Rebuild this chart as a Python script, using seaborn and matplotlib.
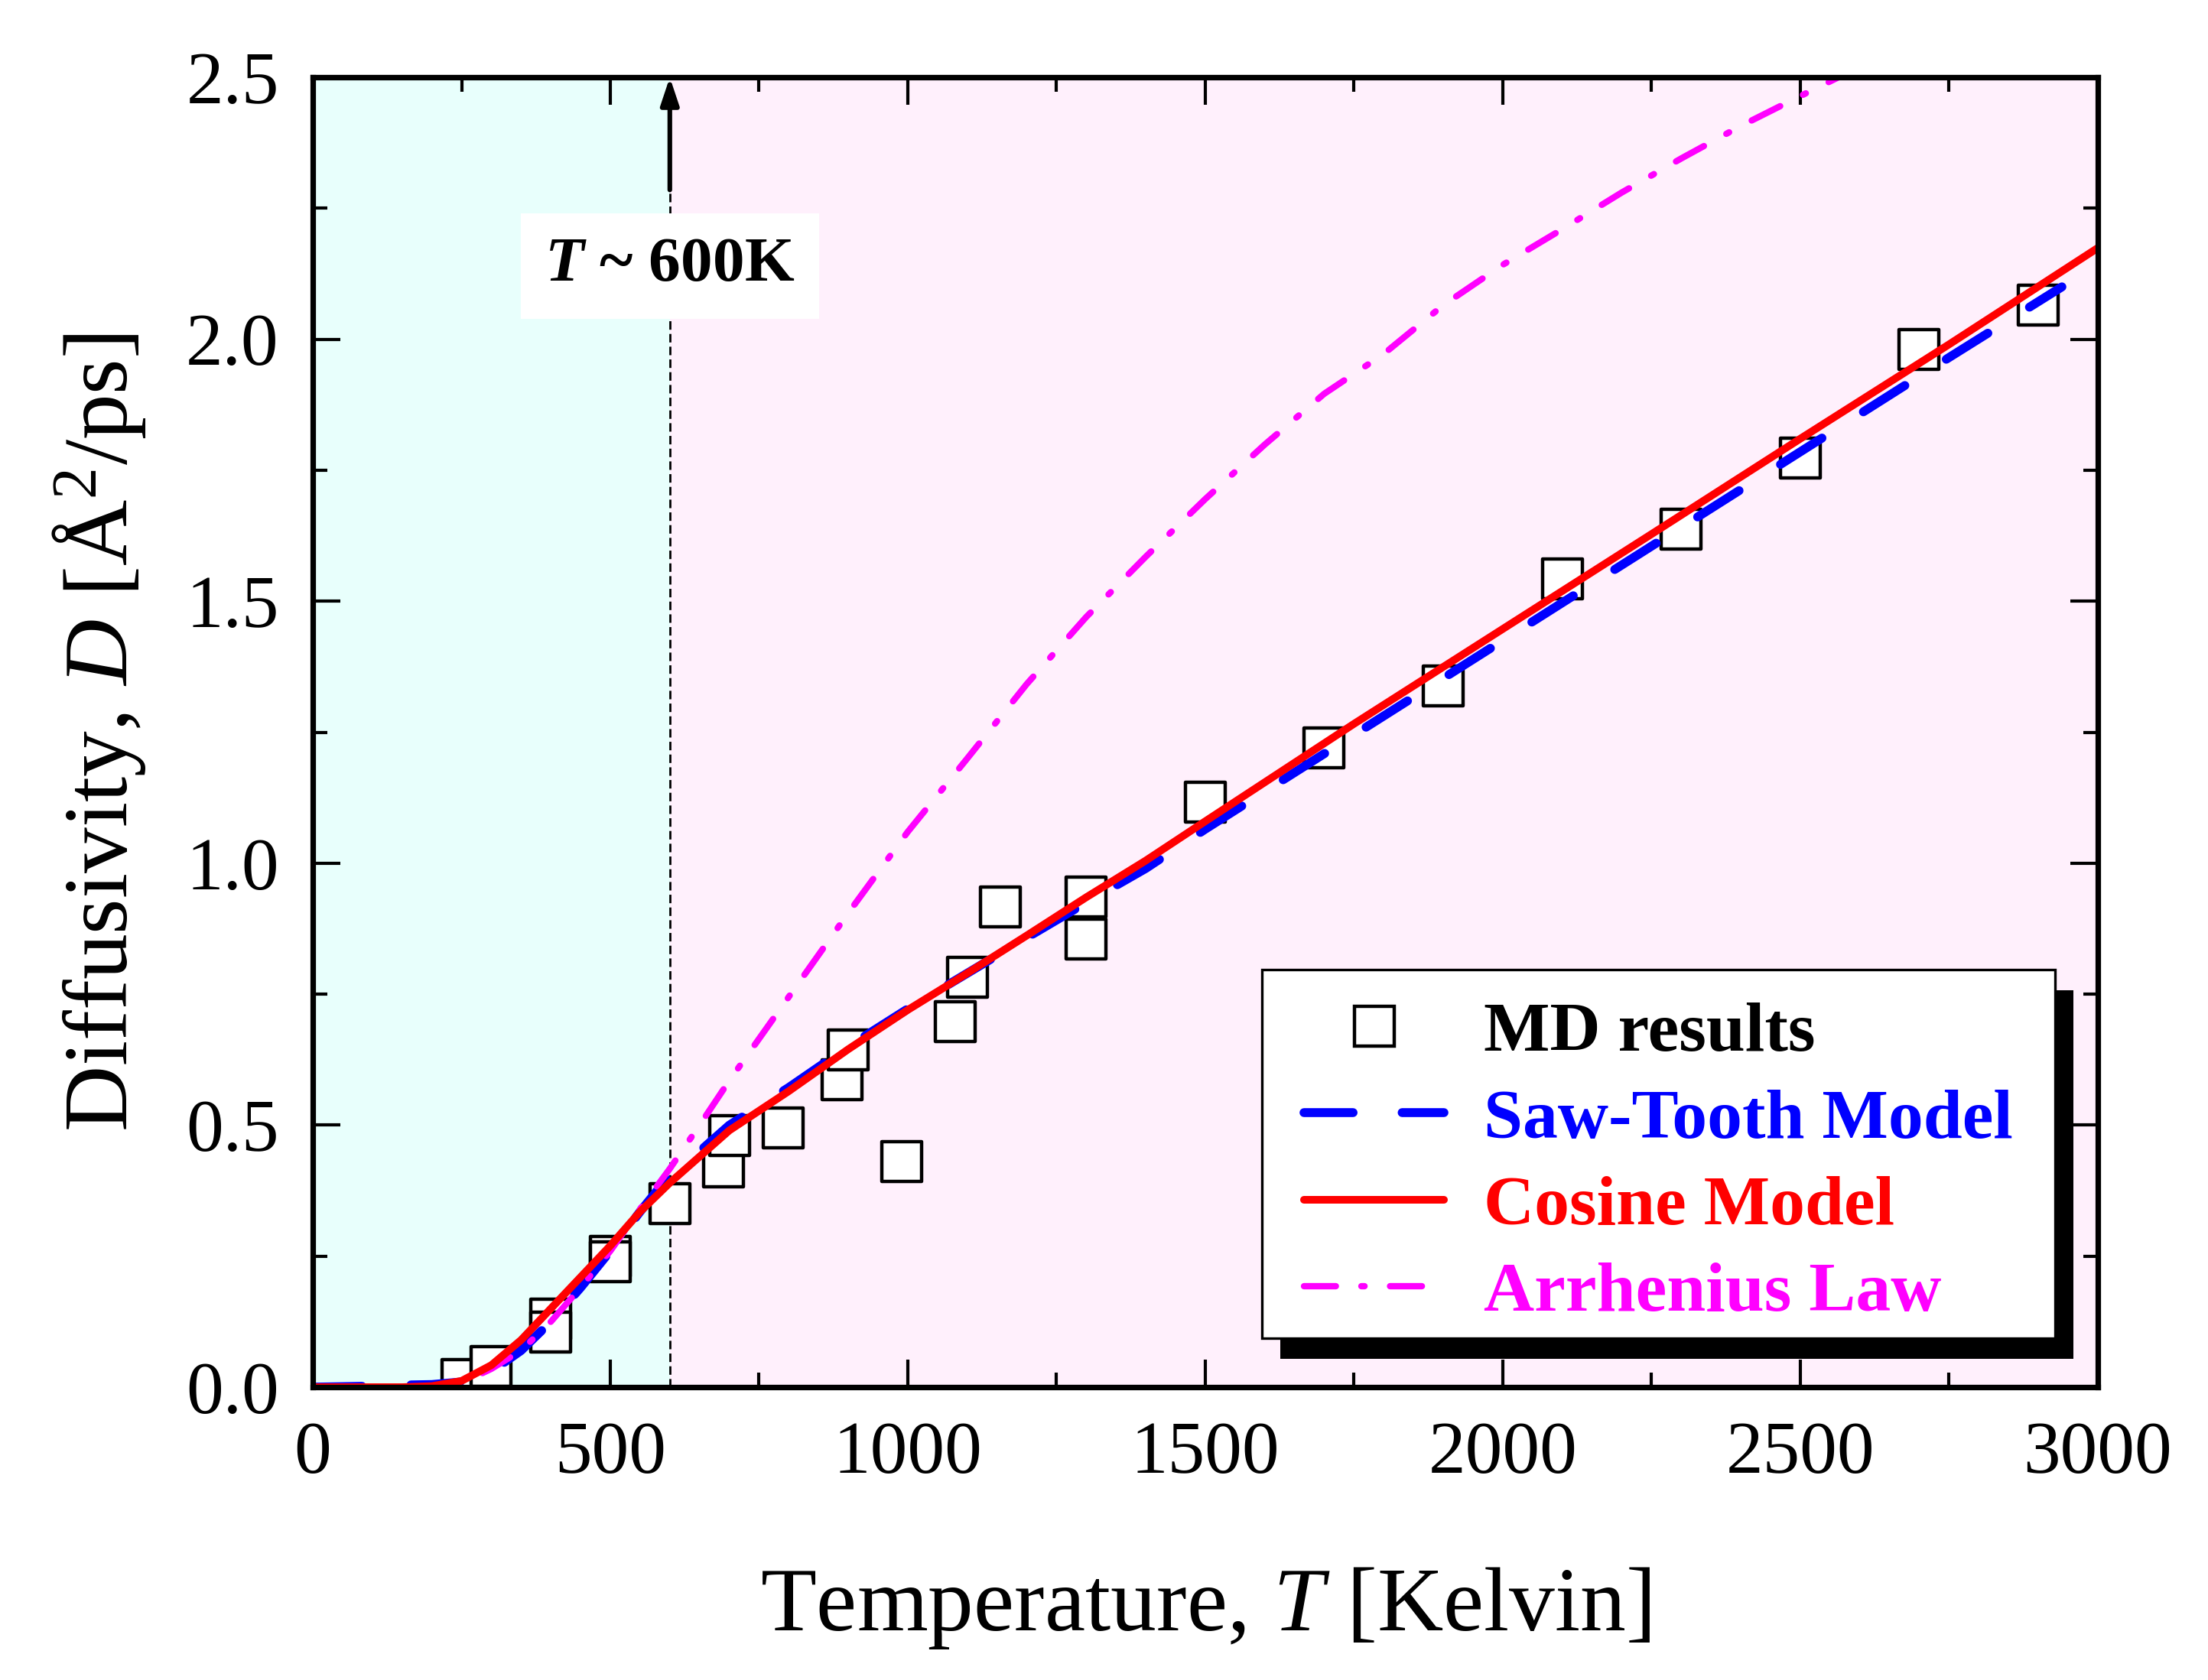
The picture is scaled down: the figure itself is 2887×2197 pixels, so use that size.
import numpy as np
import pandas as pd
import seaborn as sns
import matplotlib.pyplot as plt
from matplotlib.lines import Line2D
from matplotlib.patches import Rectangle
from matplotlib.transforms import IdentityTransform

# MD simulation points
md_T = [250, 300, 400, 400, 500, 500, 600, 690, 700, 790, 890, 900, 990,
        1080, 1100, 1155, 1300, 1300, 1500, 1700, 1900, 2100, 2300, 2500, 2700, 2900]
md_D = [0.015, 0.04, 0.13, 0.105, 0.25, 0.24, 0.35, 0.42, 0.48, 0.495, 0.587, 0.644, 0.431,
        0.697, 0.783, 0.916, 0.935, 0.855, 1.117, 1.22, 1.339, 1.543, 1.637, 1.774, 1.981, 2.065]

# saw-tooth model (blue dashed)
saw_T = [0, 100, 150, 200, 250, 300, 350, 400, 450, 500, 550, 600, 650, 700, 800, 900,
         1000, 1100, 1200, 1300, 1400, 1500, 1750, 2000, 2250, 2500, 2750, 2940]
saw_D = [0.0, 0.002, 0.004, 0.005, 0.01, 0.03, 0.07, 0.125, 0.19, 0.26, 0.335, 0.405, 0.45, 0.5,
         0.572, 0.65, 0.722, 0.79, 0.858, 0.925, 0.99, 1.065, 1.245, 1.425, 1.605, 1.785, 1.965, 2.10]

# cosine model (red solid)
cos_T = [0, 100, 150, 200, 250, 300, 350, 400, 450, 500, 550, 600, 650, 700, 800, 900,
         1000, 1100, 1200, 1300, 1400, 1500, 1750, 2000, 2250, 2500, 2750, 3000]
cos_D = [0.0, 0.0, 0.0, 0.002, 0.012, 0.042, 0.09, 0.15, 0.21, 0.27, 0.335, 0.39, 0.44, 0.49,
         0.565, 0.645, 0.72, 0.79, 0.862, 0.935, 1.005, 1.08, 1.266, 1.447, 1.628, 1.81, 1.99, 2.174]

# Arrhenius law (magenta dash-dot)
arr_T = [0, 100, 200, 250, 300, 350, 400, 450, 500, 550, 600, 650, 700, 750, 800, 900, 1000,
         1100, 1200, 1300, 1400, 1500, 1600, 1700, 1800, 1900, 2000, 2100, 2200, 2300, 2400,
         2500, 2600]
arr_D = [0.0, 0.0, 0.001, 0.008, 0.035, 0.07, 0.125, 0.19, 0.26, 0.34, 0.417, 0.5, 0.585,
         0.665, 0.745, 0.905, 1.06, 1.2, 1.342, 1.47, 1.585, 1.695, 1.799, 1.896, 1.972,
         2.065, 2.142, 2.21, 2.28, 2.345, 2.407, 2.464, 2.52]

T_CROSS = 600
labels = ["MD results", "Saw-Tooth Model", "Cosine Model", "Arrhenius Law"]
colors = ["black", "#0000FF", "#FF0000", "#FF00FF"]

sns.set_theme(style="ticks")
plt.rcParams['font.family'] = ['Liberation Serif', 'DejaVu Serif']
plt.rcParams['text.color'] = 'black'
plt.rcParams['axes.labelcolor'] = 'black'
plt.rcParams['mathtext.fontset'] = 'custom'
plt.rcParams['mathtext.rm'] = 'Liberation Serif'
plt.rcParams['mathtext.it'] = 'Liberation Serif:italic'
plt.rcParams['mathtext.bf'] = 'Liberation Serif:bold'
plt.rcParams['mathtext.bfit'] = 'Liberation Serif:italic:bold'

fig = plt.figure(figsize=(14.435, 10.985), dpi=200)
ax = fig.add_axes([0.1417, 0.1743, 0.8083, 0.7797])

# background regions
ax.axvspan(0, T_CROSS, color="#E8FFFC", zorder=0, lw=0)
ax.axvspan(T_CROSS, 3000, color="#FFF0FC", zorder=0, lw=0)

md = pd.DataFrame({"T": md_T, "D": md_D})
sns.scatterplot(data=md, x="T", y="D", ax=ax, marker="s", s=19**2, facecolor="white",
                edgecolor="black", linewidth=1.6, zorder=3)

sns.lineplot(x=saw_T, y=saw_D, ax=ax, color=colors[1], lw=4.2, linestyle=(0, (5.5, 5.5)),
             dash_capstyle="round", zorder=4, estimator=None)
sns.lineplot(x=cos_T, y=cos_D, ax=ax, color=colors[2], lw=3.6, zorder=5, estimator=None)
sns.lineplot(x=arr_T, y=arr_D, ax=ax, color=colors[3], lw=3.0, linestyle=(0, (5, 4, 0.5, 4)),
             dash_capstyle="round", zorder=4, estimator=None)

# 600 K marker: dashed line, arrow and label
ax.plot([T_CROSS, T_CROSS], [0, 2.29], color="black", lw=1.0, ls=(0, (4, 2)), zorder=2)
ax.annotate("", xy=(T_CROSS, 2.5), xytext=(T_CROSS, 2.285),
            arrowprops=dict(arrowstyle="-|>,head_length=0.9,head_width=0.3", color="black",
                            lw=2.2, shrinkA=0, shrinkB=0), zorder=6)
ax.text(T_CROSS, 2.14, r"$\mathbfit{T}$ ~ 600K", fontsize=30, fontweight="bold",
        ha="center", va="center", zorder=6,
        bbox=dict(facecolor="white", edgecolor="none", boxstyle="square,pad=0.38"))

ax.set_xlim(0, 3000)
ax.set_ylim(0, 2.5)
ax.set_xticks(np.arange(0, 3001, 500))
ax.set_yticks(np.arange(0, 2.51, 0.5))
ax.set_yticklabels([f"{v:.1f}" for v in np.arange(0, 2.51, 0.5)])
ax.set_xticks(np.arange(250, 3000, 500), minor=True)
ax.set_yticks(np.arange(0.25, 2.5, 0.5), minor=True)
ax.tick_params(which="both", direction="in", top=True, right=True, width=1.5,
               colors="black", labelcolor="black")
ax.tick_params(which="major", length=13, labelsize=35, pad=16)
ax.tick_params(which="minor", length=7)
for sp in ax.spines.values():
    sp.set_linewidth(2.6)
    sp.set_color("black")
    sp.set_zorder(7)

ax.set_xlabel(r"Temperature, $T$ [Kelvin]", fontsize=43, labelpad=36, color="black")
ax.set_ylabel(r"Diffusivity, $D$ [Å$^2$/ps]", fontsize=43, labelpad=18, color="black")

handles = [
    Line2D([], [], ls="none", marker="s", markersize=19, markerfacecolor="white",
           markeredgecolor="black", markeredgewidth=1.6),
    Line2D([], [], color=colors[1], lw=4.2, ls=(0, (5.5, 5.5)), dash_capstyle="round"),
    Line2D([], [], color=colors[2], lw=3.6),
    Line2D([], [], color=colors[3], lw=3.0, ls=(0, (5, 4, 0.5, 4)), dash_capstyle="round"),
]
leg = ax.legend(handles, labels, loc="lower right", bbox_to_anchor=(0.965, 0.030),
                prop={"size": 33, "weight": "bold"}, frameon=False,
                handlelength=2.0, handletextpad=0.56,
                labelspacing=0.33, borderpad=0.32, borderaxespad=0)
leg.set_zorder(8)
for txt, c in zip(leg.get_texts(), colors):
    txt.set_color(c)

# legend frame (wider side padding) with an offset black shadow
fig.canvas.draw()
bb = leg.get_window_extent()
side = 26
lift = 13
frame = Rectangle((bb.x0 - side, bb.y0 + lift), bb.width + 2 * side, bb.height,
                  transform=IdentityTransform(), facecolor="white", edgecolor="black",
                  lw=1.2, zorder=7.8)
shadow = Rectangle((bb.x0 - side + 24, bb.y0 + lift - 27), bb.width + 2 * side, bb.height,
                   transform=IdentityTransform(), facecolor="black", edgecolor="none",
                   zorder=7.5)
ax.add_artist(shadow)
ax.add_artist(frame)

fig.savefig("out.png", dpi=200, facecolor="white")
